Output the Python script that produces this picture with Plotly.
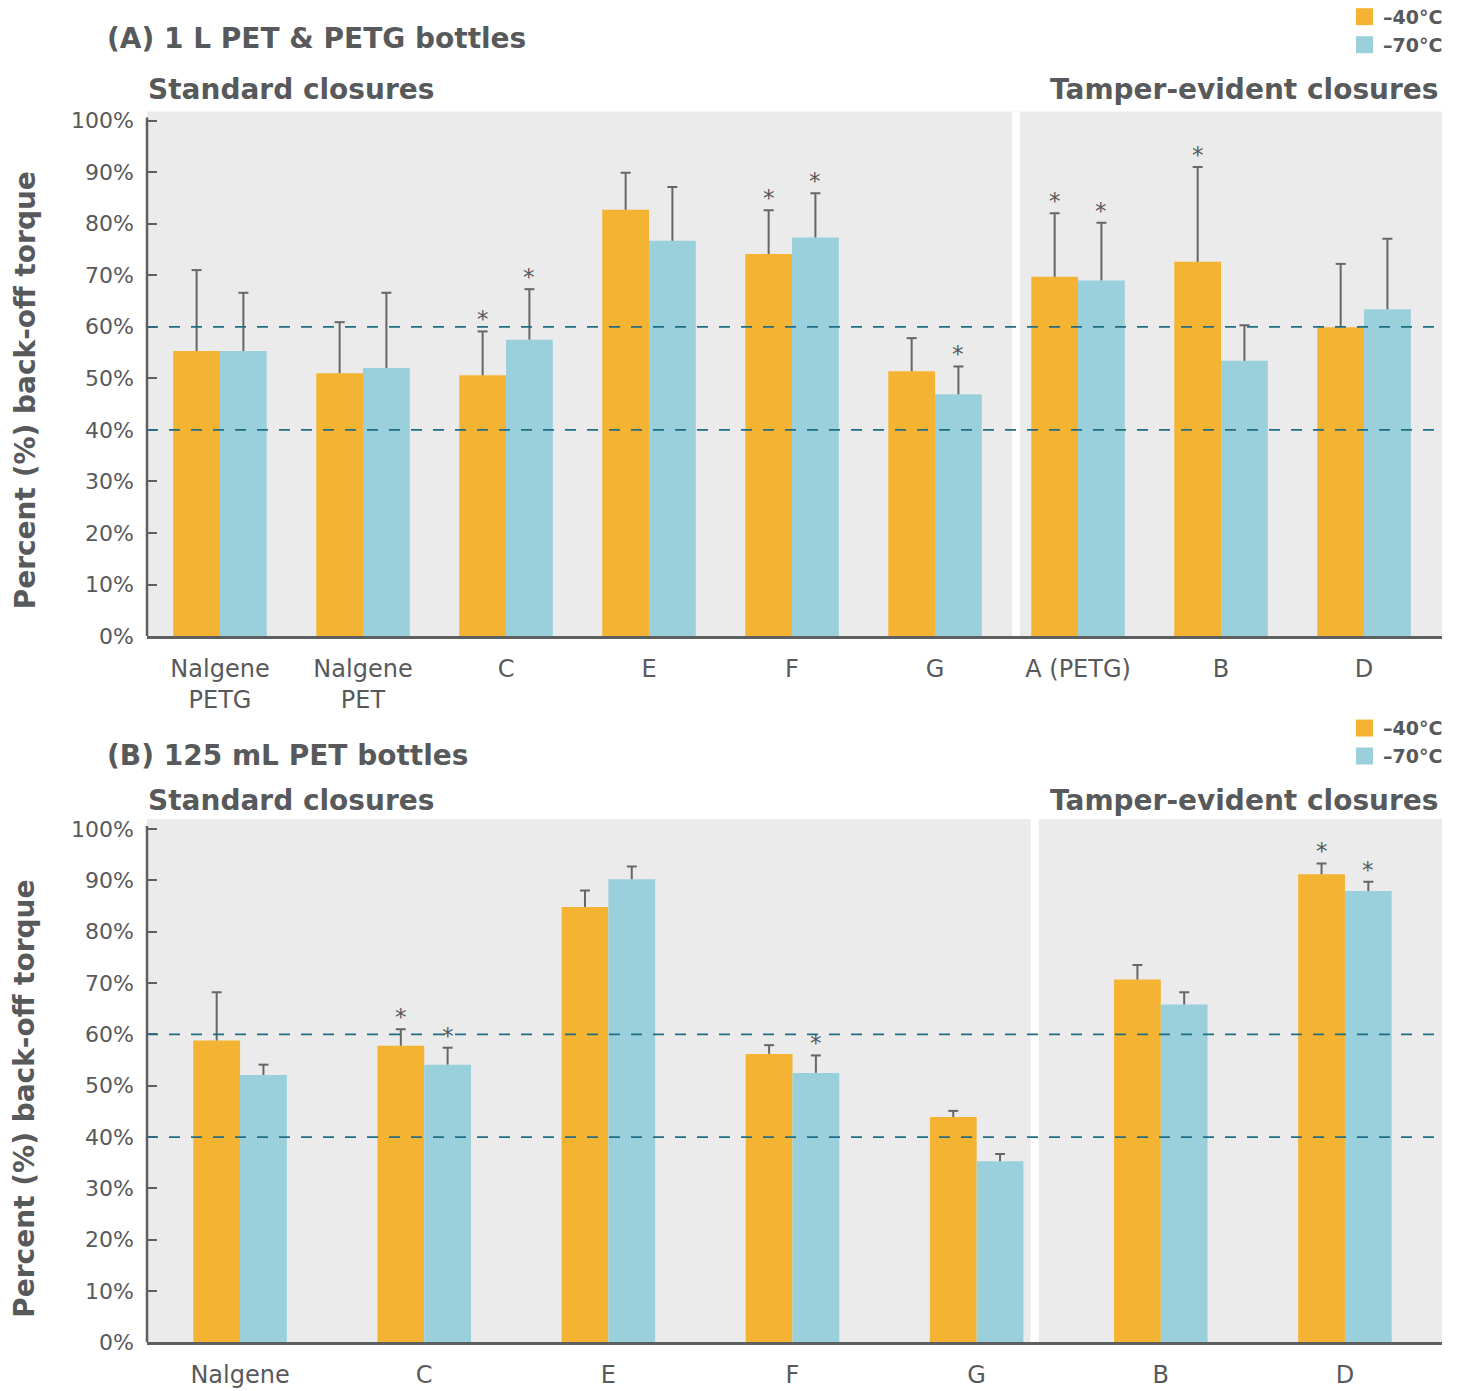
import plotly.graph_objects as go

W, H = 1461, 1391

# ---- (A) 1 L PET & PETG bottles ----
cats_a = ["Nalgene<br>PETG", "Nalgene<br>PET", "C", "E", "F", "G", "A (PETG)", "B", "D"]
m40_a = [55.3, 51.0, 50.6, 82.7, 74.1, 51.4, 69.7, 72.6, 59.9]
sd40_a = [15.7, 9.9, 8.5, 7.2, 8.5, 6.4, 12.3, 18.4, 12.3]
m70_a = [55.3, 52.0, 57.5, 76.7, 77.3, 46.9, 69.0, 53.4, 63.4]
sd70_a = [11.3, 14.6, 9.8, 10.4, 8.6, 5.4, 11.2, 6.9, 13.7]
sig40_a = [0, 0, 1, 0, 1, 0, 1, 1, 0]
sig70_a = [0, 0, 1, 0, 1, 1, 1, 0, 0]

# ---- (B) 125 mL PET bottles ----
cats_b = ["Nalgene", "C", "E", "F", "G", "B", "D"]
m40_b = [58.8, 57.8, 84.8, 56.2, 43.9, 70.7, 91.2]
sd40_b = [9.4, 3.2, 3.2, 1.7, 1.2, 2.8, 2.1]
m70_b = [52.1, 54.1, 90.2, 52.5, 35.3, 65.8, 87.9]
sd70_b = [2.0, 3.3, 2.5, 3.4, 1.4, 2.4, 1.8]
sig40_b = [0, 1, 0, 0, 0, 0, 1]
sig70_b = [0, 1, 0, 1, 0, 0, 1]

series_names = ["\u201340\u00b0C", "\u201370\u00b0C"]
y_ticks = list(range(0, 101, 10))
y_ticktext = [f"{v}%" for v in y_ticks]
ref_lines = [40, 60]

ORANGE = "#F4B333"
BLUE = "#9AD0DB"
PANEL_BG = "#EAEBEA"
TEXT = "#58595B"
AXIS = "#5E5F60"
ERR = "#666666"
DASH = "#1F6E85"
FONT = "DejaVu Sans"

# page rows are laid out on a slightly taller grid than the figure itself
ROW_SCALE, ROW_OFFSET = 0.9894, 2.3


def px(x):
    return x / W


def py(y):
    return 1 - (y - ROW_OFFSET) / (ROW_SCALE * H)


fig = go.Figure()


def add_panel(cats, m40, sd40, m70, sd70, sig40, sig70, xa, ya, bar_w, cap):
    xs = list(range(len(cats)))
    for vals, color, off, name in [(m40, ORANGE, -bar_w, series_names[0]),
                                   (m70, BLUE, 0.0, series_names[1])]:
        fig.add_trace(go.Bar(
            x=xs, y=vals, width=bar_w, offset=off, name=name,
            marker=dict(color=color, line=dict(width=0)),
            xaxis=xa, yaxis=ya, showlegend=False, hoverinfo="skip",
        ))
    # upward-only error whiskers with a cap
    for vals, sds, sig, shift in [(m40, sd40, sig40, -bar_w / 2),
                                  (m70, sd70, sig70, bar_w / 2)]:
        ex, ey = [], []
        for i, (v, s) in enumerate(zip(vals, sds)):
            cx = i + shift
            top = v + s
            ex += [cx, cx, None, cx - cap, cx + cap, None]
            ey += [v, top, None, top, top, None]
            if sig[i]:
                fig.add_annotation(
                    x=cx, y=top, xref=xa, yref=ya,
                    text="*", showarrow=False, yanchor="bottom", yshift=-3,
                    font=dict(family=FONT, size=23, color=TEXT),
                )
        fig.add_trace(go.Scatter(
            x=ex, y=ey, mode="lines", line=dict(color=ERR, width=2),
            xaxis=xa, yaxis=ya, showlegend=False, hoverinfo="skip",
        ))


add_panel(cats_a, m40_a, sd40_a, m70_a, sd70_a, sig40_a, sig70_a, "x", "y", 0.327, 0.035)
add_panel(cats_b, m40_b, sd40_b, m70_b, sd70_b, sig40_b, sig70_b, "x2", "y2", 0.254, 0.027)

xdom = [px(147), px(1442)]
common_x = dict(
    domain=xdom, showgrid=False, zeroline=False, showline=True,
    linecolor=AXIS, linewidth=3, ticks="", ticklabelstandoff=9,
    tickfont=dict(family=FONT, size=24, color=TEXT), fixedrange=True,
)
common_y = dict(
    showgrid=False, zeroline=False, showline=False,
    tickmode="array", tickvals=y_ticks, ticktext=y_ticktext,
    ticks="inside", ticklen=10, tickwidth=2, tickcolor=AXIS, ticklabelstandoff=12,
    tickfont=dict(family=FONT, size=22, color=TEXT), fixedrange=True,
)

fig.update_layout(
    width=W, height=H,
    margin=dict(l=0, r=0, t=0, b=0),
    paper_bgcolor="white", plot_bgcolor="white",
    barmode="overlay",
    xaxis=dict(common_x, range=[-0.5105, 8.545], tickvals=list(range(len(cats_a))),
               ticktext=cats_a, anchor="y"),
    yaxis=dict(common_y, domain=[py(636), py(111)], range=[0, 101.74], anchor="x"),
    xaxis2=dict(common_x, range=[-0.5054, 6.527], tickvals=list(range(len(cats_b))),
                ticktext=cats_b, anchor="y2"),
    yaxis2=dict(common_y, domain=[py(1343), py(819)], range=[0, 101.95], anchor="x2"),
)

# panel backgrounds (standard vs tamper-evident) with a white gutter
for xa, ya, split_l, split_r in [("x", "y", 5.538, 5.594), ("x2", "y2", 4.293, 4.337)]:
    fig.add_shape(type="rect", layer="below", line_width=0, fillcolor=PANEL_BG,
                  xref=xa + " domain", x0=0, x1=1, yref=ya + " domain", y0=0, y1=1)
    fig.add_shape(type="rect", layer="below", line_width=0, fillcolor="white",
                  xref=xa, x0=split_l, x1=split_r, yref=ya + " domain", y0=0, y1=1)
    for v in ref_lines:
        fig.add_shape(type="line", layer="above", xref=xa + " domain", x0=0, x1=1,
                      yref=ya, y0=v, y1=v,
                      line=dict(color=DASH, width=1.8, dash="11px,11px"))
    # vertical value axis, ending just past the 100% tick
    fig.add_shape(type="line", layer="above", xref=xa + " domain", x0=0, x1=0,
                  yref=ya, y0=0, y1=100.6, line=dict(color=AXIS, width=2.5))


# titles, panel headers, axis titles
def text(x, y, s, size, bold=True, xanchor="left", angle=0):
    fig.add_annotation(
        x=px(x), y=py(y), xref="paper", yref="paper", text=s, showarrow=False,
        xanchor=xanchor, yanchor="middle", textangle=angle,
        font=dict(family=FONT, size=size, color=TEXT, weight="bold" if bold else "normal"),
    )


for dy, title in [(0, "(A) 1 L PET &amp; PETG bottles"), (717, "(B) 125 mL PET bottles")]:
    text(105, 38 + dy, title, 28)
for dy in [0, 712]:
    text(146, 89 + dy, "Standard closures", 28)
    text(1440, 89 + dy, "Tamper-evident closures", 28, xanchor="right")
text(25, 390, "Percent (%) back-off torque", 28, xanchor="center", angle=-90)
text(25, 1099, "Percent (%) back-off torque", 28, xanchor="center", angle=-90)

# legend swatches
for y0 in [16, 728]:
    for k, (color, name) in enumerate([(ORANGE, series_names[0]), (BLUE, series_names[1])]):
        yc = y0 + k * 28
        fig.add_shape(type="rect", xref="paper", yref="paper", line_width=0,
                      fillcolor=color, x0=px(1356), x1=px(1373),
                      y0=py(yc + 8.5), y1=py(yc - 8.5))
        text(1381, yc, name, 19)

fig.write_html("out.html")
